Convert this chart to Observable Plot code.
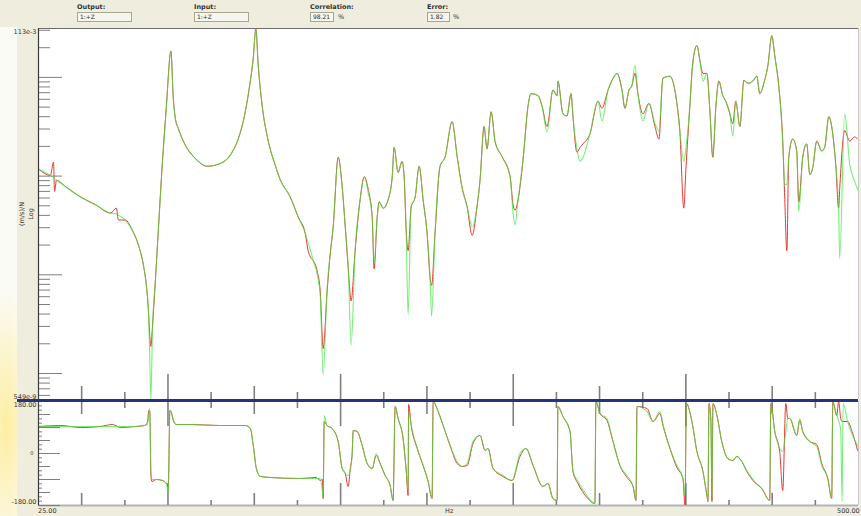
<!DOCTYPE html>
<html>
<head>
<meta charset="utf-8">
<script src="https://cdn.jsdelivr.net/npm/d3@7"></script>
<script src="https://cdn.jsdelivr.net/npm/@observablehq/plot@0.6"></script>
<style>
  body { margin: 0; background: #eeedde; }
  #wrap { position: relative; width: 861px; height: 516px; overflow: hidden; background: #eeedde;
          font-family: "DejaVu Sans", Tahoma, sans-serif; color: #222; }
  #glow { position: absolute; left: 0; top: 27px; width: 17px; height: 489px;
          background: radial-gradient(ellipse 30px 140px at 6px 400px, rgba(255,236,150,0.9), rgba(255,236,150,0)), #fbfbf6; }
  .lab { position: absolute; font-size: 6.5px; font-weight: bold; color: #333; }
  .box { position: absolute; height: 8px; border: 1px solid #a8a690; background: #f6f5ee;
         font-size: 6px; line-height: 8px; padding-left: 2px; color: #333; box-sizing: content-box; }
  .pct { position: absolute; font-size: 6.5px; color: #333; }
  .ax { position: absolute; font-size: 6.5px; color: #333; white-space: nowrap; }
  .pane { position: absolute; left: 0; }
</style>
</head>
<body>
<div id="wrap">
  <div id="glow"></div>
  <div class="lab" style="left:77px;top:3px">Output:</div>
  <div class="box" style="left:77px;top:12px;width:51px">1:+Z</div>
  <div class="lab" style="left:194px;top:3px">Input:</div>
  <div class="box" style="left:194px;top:12px;width:51px">1:+Z</div>
  <div class="lab" style="left:310px;top:3px">Correlation:</div>
  <div class="box" style="left:310px;top:12px;width:20px">98.21</div>
  <div class="pct" style="left:338px;top:13px">%</div>
  <div class="lab" style="left:427px;top:3px">Error:</div>
  <div class="box" style="left:427px;top:12px;width:19px">1.82</div>
  <div class="pct" style="left:453px;top:13px">%</div>

  <div id="mag" class="pane" style="top:27px"></div>
  <div id="pha" class="pane" style="top:398px"></div>
  <div style="position:absolute;left:17px;top:399px;width:841px;height:3px;background:#23347a"></div>

  <div class="ax" style="left:22px;top:214px;transform:translate(-50%,-50%) rotate(-90deg)">(m/s)/N</div>
  <div class="ax" style="left:31px;top:214px;transform:translate(-50%,-50%) rotate(-90deg)">Log</div>
  <div class="ax" style="left:38px;top:507px">25.00</div>
  <div class="ax" style="left:445px;top:507px">Hz</div>
  <div class="ax" style="left:837px;top:507px">500.00</div>
</div>
<script>
// ---------- data ----------
// Frequency axis (Hz)
const freqTicks = [50,75,100,125,150,175,200,225,250,275,300,325,350,375,400,425,450,475];
const magLabels = ["113e-3", "549e-9"];
const magDomain = [549e-9, 113e-3];
const phaseLabels = ["180.00", "0", "-180.00"];
const phaseTicks = [-180,-165,-150,-135,-120,-105,-90,-75,-60,-45,-30,-15,0,15,30,45,60,75,90,105,120,135,150,165,180];

// FRF magnitude, (m/s)/N, stored as log10 of the value
const magFreq = [
  25.0,31.9,33.7,34.3,35.4,40.6,49.3,58.0,66.7,70.1,
  71.3,75.3,79.4,82.9,85.8,87.5,88.7,89.5,90.1,91.0,
  92.7,94.4,96.7,99.0,101.7,103.1,104.3,106.0,110.1,115.9,
  122.8,130.3,136.1,140.7,144.2,147.1,149.4,150.9,152.3,154.6,
  158.1,162.2,165.0,170.8,175.5,179.5,181.2,183.0,184.1,186.4,
  188.2,189.9,192.2,194.0,195.7,198.6,200.9,202.7,204.4,206.1,
  208.4,211.3,213.7,216.0,218.3,219.4,221.2,222.3,224.7,227.5,
  229.9,231.0,233.3,235.6,236.8,238.0,239.1,240.9,243.2,245.5,
  247.8,250.1,251.9,252.7,254.7,257.6,260.5,264.6,267.5,270.4,
  273.3,276.2,279.0,280.8,283.1,284.8,287.2,289.5,293.5,298.2,
  299.9,301.0,302.8,305.7,308.6,310.3,314.4,316.7,319.6,323.0,
  325.4,325.9,328.8,331.1,333.5,334.6,336.9,338.7,340.4,344.4,
  349.1,351.4,354.9,358.9,360.1,363.0,364.7,367.0,368.7,370.5,
  372.2,375.1,378.6,382.1,384.4,386.7,390.7,394.8,396.5,398.8,
  400.0,402.3,404.0,406.4,408.1,409.9,412.2,413.9,415.6,417.4,
  419.1,421.4,423.1,425.5,427.2,428.9,431.3,433.6,435.9,438.8,
  441.1,442.8,445.2,447.5,449.8,451.5,453.8,456.1,457.3,458.5,
  459.6,461.9,464.2,465.4,467.7,470.0,471.8,473.5,475.8,478.7,
  480.4,482.8,485.1,486.8,488.5,489.1,492.0,494.9,497.8,499.5
];
const magSynthLog10 = [
  -2.96,-3.05,-3.08,-3.10,-3.12,-3.21,-3.36,-3.47,-3.59,-3.60,
  -3.62,-3.69,-3.84,-4.05,-4.34,-4.63,-5.00,-5.72,-6.26,-5.29,
  -4.56,-3.84,-2.89,-2.09,-1.27,-1.95,-2.24,-2.38,-2.62,-2.81,
  -2.92,-2.88,-2.76,-2.53,-2.21,-1.80,-1.37,-0.95,-1.48,-2.06,
  -2.56,-2.91,-3.11,-3.36,-3.65,-3.88,-4.02,-4.16,-4.27,-4.46,
  -4.78,-5.91,-4.66,-4.17,-3.79,-2.79,-3.21,-3.79,-4.37,-5.48,
  -4.13,-3.40,-3.07,-3.30,-3.65,-4.31,-3.65,-3.43,-3.52,-3.40,
  -3.07,-2.65,-3.01,-2.85,-3.07,-3.88,-5.04,-3.50,-3.36,-2.92,
  -3.40,-3.88,-4.56,-5.07,-3.88,-2.92,-2.79,-2.28,-2.78,-3.23,
  -3.50,-3.79,-3.50,-3.11,-2.35,-2.67,-2.14,-2.57,-2.78,-3.07,
  -3.59,-3.76,-3.40,-2.82,-2.05,-1.88,-1.91,-2.06,-2.43,-1.83,
  -1.91,-1.70,-2.17,-2.20,-1.88,-2.21,-2.67,-2.85,-2.79,-2.46,
  -1.99,-2.27,-1.83,-1.62,-1.59,-1.83,-2.09,-1.83,-1.77,-1.47,
  -1.88,-2.27,-2.02,-2.31,-2.41,-1.66,-1.63,-2.02,-2.41,-2.85,
  -2.67,-2.06,-1.44,-1.19,-1.40,-1.70,-1.59,-2.12,-2.79,-2.06,
  -1.70,-1.91,-1.99,-2.17,-2.49,-1.99,-2.35,-1.69,-1.73,-1.70,
  -1.63,-1.88,-1.73,-1.48,-1.05,-1.34,-1.77,-2.56,-3.18,-3.18,
  -2.79,-2.53,-2.70,-3.57,-2.79,-2.60,-3.04,-2.94,-2.56,-2.70,
  -2.65,-2.21,-2.46,-2.89,-3.55,-4.24,-2.17,-2.89,-3.14,-3.25
];
const magMeasLog10 = [
  -2.96,-3.05,-2.86,-3.28,-3.12,-3.21,-3.36,-3.47,-3.59,-3.52,
  -3.69,-3.69,-3.84,-4.05,-4.34,-4.63,-5.00,-5.36,-5.50,-5.22,
  -4.56,-3.84,-2.89,-2.09,-1.27,-1.95,-2.24,-2.38,-2.62,-2.81,
  -2.92,-2.88,-2.76,-2.53,-2.21,-1.80,-1.37,-0.95,-1.48,-2.06,
  -2.56,-2.91,-3.11,-3.36,-3.65,-3.88,-4.13,-4.24,-4.27,-4.42,
  -4.71,-5.53,-4.71,-4.17,-3.79,-2.79,-3.21,-3.79,-4.37,-4.85,
  -4.13,-3.40,-3.07,-3.25,-3.65,-4.39,-3.65,-3.43,-3.52,-3.40,
  -3.07,-2.65,-3.01,-2.85,-3.07,-3.84,-4.13,-3.50,-3.36,-2.92,
  -3.40,-3.88,-4.53,-4.63,-3.88,-2.92,-2.79,-2.28,-2.78,-3.23,
  -3.50,-3.91,-3.50,-3.11,-2.35,-2.67,-2.14,-2.57,-2.78,-3.07,
  -3.47,-3.55,-3.40,-2.82,-2.05,-1.88,-1.91,-2.06,-2.35,-1.83,
  -1.91,-1.70,-2.17,-2.20,-1.88,-2.21,-2.72,-2.65,-2.60,-2.46,
  -1.99,-2.09,-1.83,-1.62,-1.59,-1.83,-2.09,-1.83,-1.77,-1.59,
  -1.88,-2.17,-2.02,-2.35,-2.53,-1.66,-1.63,-2.02,-2.41,-3.52,
  -2.97,-2.06,-1.44,-1.19,-1.40,-1.59,-1.59,-2.12,-2.79,-2.06,
  -1.70,-1.91,-1.99,-2.17,-2.31,-1.99,-2.35,-1.69,-1.73,-1.70,
  -1.63,-1.88,-1.73,-1.48,-1.05,-1.34,-1.77,-2.56,-3.40,-4.13,
  -2.79,-2.53,-2.70,-3.43,-2.79,-2.60,-3.04,-2.94,-2.56,-2.70,
  -2.65,-2.21,-2.46,-2.89,-3.52,-3.25,-2.41,-2.56,-2.50,-2.53
];

// FRF phase, degrees
const phaseFreq = [
  25.0,37.7,49.3,60.9,67.8,72.5,81.1,86.3,88.1,88.9,
  89.5,90.1,90.7,93.3,96.8,99.1,100.2,101.1,102.0,103.1,
  104.9,113.0,130.3,144.8,147.7,149.4,151.2,153.5,159.3,176.6,
  185.9,188.2,189.4,189.9,190.5,192.2,195.1,198.6,200.9,202.7,
  204.4,205.6,206.7,207.3,209.6,212.5,215.4,218.3,220.6,222.9,
  225.8,228.7,230.4,231.6,233.3,236.2,238.0,239.1,239.4,240.9,
  244.4,247.8,250.7,253.0,253.6,256.5,259.4,263.4,267.5,270.4,
  273.3,276.7,280.8,283.7,285.4,288.3,294.1,299.3,303.9,307.4,
  311.5,317.2,320.1,323.0,325.4,325.9,328.8,332.9,334.6,337.5,
  342.7,347.3,347.9,350.2,354.3,357.8,361.8,365.9,369.4,371.1,
  371.7,377.5,381.0,385.0,386.8,390.8,394.8,398.3,399.5,400.3,
  403.5,406.4,409.9,412.2,412.8,413.4,414.5,415.1,415.7,418.0,
  420.8,424.3,427.2,429.5,432.4,435.3,439.9,444.0,448.6,449.2,
  451.5,454.4,456.1,457.9,459.0,460.2,464.2,466.0,467.7,471.8,
  475.8,478.7,482.2,484.5,485.1,487.4,488.5,489.7,490.5,491.1,
  493.7,496.6,499.5
];
const phaseSynth = [
  93.5,93.5,93.5,93.5,93.5,93.5,93.5,96.9,100.4,131.5,
  155.8,-58.8,-90.0,-90.0,-93.5,-103.8,-138.5,148.8,141.9,114.2,
  100.4,100.4,96.9,96.9,86.5,27.7,-51.9,-79.6,-83.1,-86.5,
  -86.5,-86.5,-128.1,-155.8,131.5,96.9,86.5,41.5,-51.9,-69.2,
  -76.2,-58.8,0,79.6,76.2,27.7,-34.6,-51.9,0,-34.6,
  -76.2,-110.8,-162.7,162.7,121.2,51.9,-58.8,-128.1,148.8,96.9,
  17.3,-41.5,-96.9,-155.8,180,145.4,96.9,27.7,-27.7,-45.0,
  -34.6,41.5,62.3,10.4,17.3,-51.9,-76.2,-93.5,0,17.3,
  -41.5,-114.2,-103.8,-155.8,-162.7,162.7,128.1,76.2,-62.3,-96.9,
  -145.4,-173.1,180,138.5,121.2,41.5,-41.5,-76.2,-114.2,-162.7,
  162.7,145.4,110.8,145.4,96.9,17.3,-41.5,-86.5,-145.4,173.1,
  110.8,6.9,-62.3,-145.4,-166.2,173.1,114.2,-166.2,173.1,131.5,
  41.5,-17.3,-24.2,-10.4,-27.7,-58.8,-96.9,-121.2,-162.7,173.1,
  76.2,17.3,6.9,76.2,121.2,121.2,62.3,121.2,76.2,41.5,
  24.2,-41.5,-86.5,-155.8,180,131.5,114.2,79.6,-166.2,173.1,
  110.8,62.3,27.7
];
const phaseMeas = [
  93.5,96.9,90.0,93.5,100.4,90.0,93.5,96.9,107.3,148.8,
  145.4,-76.2,-96.9,-90.0,-93.5,-103.8,-114.2,148.8,141.9,114.2,
  100.4,100.4,96.9,96.9,86.5,27.7,-51.9,-79.6,-83.1,-86.5,
  -83.1,-93.5,-90.0,-155.8,110.8,96.9,86.5,41.5,-51.9,-69.2,
  -114.2,-51.9,0,79.6,76.2,27.7,-34.6,-51.9,-6.9,-34.6,
  -76.2,-110.8,-162.7,162.7,121.2,51.9,-58.8,-145.4,169.6,96.9,
  17.3,-41.5,-96.9,-155.8,180,145.4,96.9,27.7,-34.6,-45.0,
  -41.5,34.6,62.3,10.4,17.3,-51.9,-79.6,-93.5,-10.4,17.3,
  -41.5,-114.2,-103.8,-155.8,-162.7,162.7,128.1,76.2,-62.3,-103.8,
  -152.3,-173.1,180,138.5,114.2,41.5,-41.5,-83.1,-114.2,-162.7,
  162.7,155.8,110.8,138.5,96.9,17.3,-48.5,-86.5,-180,173.1,
  110.8,6.9,-62.3,-145.4,-166.2,173.1,114.2,-166.2,173.1,131.5,
  41.5,-17.3,-24.2,-10.4,-27.7,-62.3,-100.4,-121.2,-162.7,173.1,
  76.2,3.5,-128.1,173.1,121.2,121.2,62.3,114.2,76.2,41.5,
  31.2,-34.6,-86.5,-155.8,180,131.5,180,121.2,110.8,110.8,
  110.8,69.2,10.4
];

// ---------- build ----------
const RED = "#e83a36", GREEN = "#3fe83f", GREEN_OP = 0.7;
const TICK = "#7f7f7f";
const CURVE = "monotone-x";
const W = 861, ML = 38, MR = 3;
const hzPerPx = (500 - 25) / (W - ML - MR);

const magData = magFreq.map((f, i) => ({f, syn: 10 ** magSynthLog10[i], meas: 10 ** magMeasLog10[i]}));
const phaseData = phaseFreq.map((f, i) => ({f, syn: phaseSynth[i], meas: phaseMeas[i]}));

// the instrument's minor-tick ladder on the magnitude axis (log pattern every ~98.7 px)
const magH = 371;
const Ltop = Math.log10(magDomain[1]), Lbot = Math.log10(magDomain[0]);
const pxPerL = magH / (Ltop - Lbot);
const decL = 98.7 / pxPerL;
const Lanchor = Ltop - 345 / pxPerL;
const magTicks = [];
for (let k = -1; k <= 3; k++) for (let m = 1; m <= 9; m++) {
  const L = Lanchor + (k + Math.log10(m)) * decL;
  if (L >= Lbot && L <= Ltop) magTicks.push({v: 10 ** L, major: m === 1});
}

const t100 = freqTicks.filter(d => d % 100 === 0);
const t50 = freqTicks.filter(d => d % 50 === 0 && d % 100 !== 0);
const t25 = freqTicks.filter(d => d % 50 !== 0);

const mag = Plot.plot({
  width: W, height: magH + 2, marginLeft: ML, marginRight: MR, marginTop: 1, marginBottom: 1,
  style: {background: "transparent", overflow: "visible", fontFamily: "DejaVu Sans, sans-serif"},
  x: {domain: [25, 500], axis: null},
  y: {type: "log", domain: magDomain, axis: null},
  marks: [
    Plot.frame({fill: "white", stroke: null}),
    Plot.ruleY([magDomain[1]], {stroke: "#6e6e6e", strokeWidth: 1.2}),
    Plot.ruleX([500], {stroke: "#c8c8c8"}),
    Plot.ruleY(magTicks, {y: "v", x1: 25, x2: d => 25 + (d.major ? 24 : 12) * hzPerPx, stroke: TICK, strokeWidth: 1}),
    Plot.ruleX(t100, {x: d => d, insetTop: magH - 25, stroke: TICK, strokeWidth: 1.6}),
    Plot.ruleX(t50, {x: d => d, insetTop: magH - 13, stroke: TICK, strokeWidth: 1.6}),
    Plot.ruleX(t25, {x: d => d, insetTop: magH - 7, stroke: TICK, strokeWidth: 1.6}),
    Plot.line(magData, {x: "f", y: "meas", stroke: RED, strokeWidth: 1, curve: CURVE, clip: true}),
    Plot.line(magData, {x: "f", y: "syn", stroke: GREEN, strokeOpacity: GREEN_OP, strokeWidth: 1.1, curve: CURVE, clip: true}),
    Plot.ruleX([25], {stroke: "#3a3a3a", strokeWidth: 1.2}),
    Plot.text([magLabels[0]], {x: 25, y: magDomain[1], text: d => d, dx: -2, dy: 3, textAnchor: "end", fontSize: 6.5, fill: "#333"}),
    Plot.text([magLabels[1]], {x: 25, y: magDomain[0], text: d => d, dx: -2, dy: -3, textAnchor: "end", fontSize: 6.5, fill: "#333"})
  ]
});
document.getElementById("mag").appendChild(mag);

const phH = 104;
const pha = Plot.plot({
  width: W, height: phH + 6, marginLeft: ML, marginRight: MR, marginTop: 3, marginBottom: 3,
  style: {background: "transparent", overflow: "visible", fontFamily: "DejaVu Sans, sans-serif"},
  x: {domain: [25, 500], axis: null},
  y: {domain: [-180, 180], axis: null},
  marks: [
    Plot.frame({fill: "white", stroke: null}),
    Plot.ruleY([-180], {stroke: "#b4b4b4", strokeWidth: 2}),
    Plot.ruleX([500], {stroke: "#c8c8c8"}),
    Plot.ruleY(phaseTicks, {y: d => d, x1: 25, x2: d => 25 + (d % 90 === 0 ? 22 : d % 45 === 0 ? 12 : 4) * hzPerPx, stroke: TICK, strokeWidth: 1}),
    Plot.ruleX(t100, {x: d => d, insetBottom: phH - 25, stroke: TICK, strokeWidth: 1.6}),
    Plot.ruleX(t50, {x: d => d, insetBottom: phH - 13, stroke: TICK, strokeWidth: 1.6}),
    Plot.ruleX(t25, {x: d => d, insetBottom: phH - 7, stroke: TICK, strokeWidth: 1.6}),
    Plot.ruleX(t100, {x: d => d, insetTop: phH - 22, stroke: TICK, strokeWidth: 1.6}),
    Plot.ruleX(t50, {x: d => d, insetTop: phH - 12, stroke: TICK, strokeWidth: 1.6}),
    Plot.ruleX(t25, {x: d => d, insetTop: phH - 5, stroke: TICK, strokeWidth: 1.6}),
    Plot.line(phaseData, {x: "f", y: "meas", stroke: RED, strokeWidth: 1, curve: CURVE, clip: true}),
    Plot.line(phaseData, {x: "f", y: "syn", stroke: GREEN, strokeOpacity: GREEN_OP, strokeWidth: 1.1, curve: CURVE, clip: true}),
    Plot.ruleX([25], {stroke: "#3a3a3a", strokeWidth: 1.2}),
    Plot.text([phaseLabels[0]], {x: 25, y: 180, text: d => d, dx: -2, dy: 3, textAnchor: "end", fontSize: 6.5, fill: "#333"}),
    Plot.text([phaseLabels[1]], {x: 25, y: 0, text: d => d, dx: -5, textAnchor: "end", fontSize: 5, fill: "#333"}),
    Plot.text([phaseLabels[2]], {x: 25, y: -180, text: d => d, dx: -2, dy: -4, textAnchor: "end", fontSize: 6.5, fill: "#333"})
  ]
});
document.getElementById("pha").appendChild(pha);
</script>
</body>
</html>
